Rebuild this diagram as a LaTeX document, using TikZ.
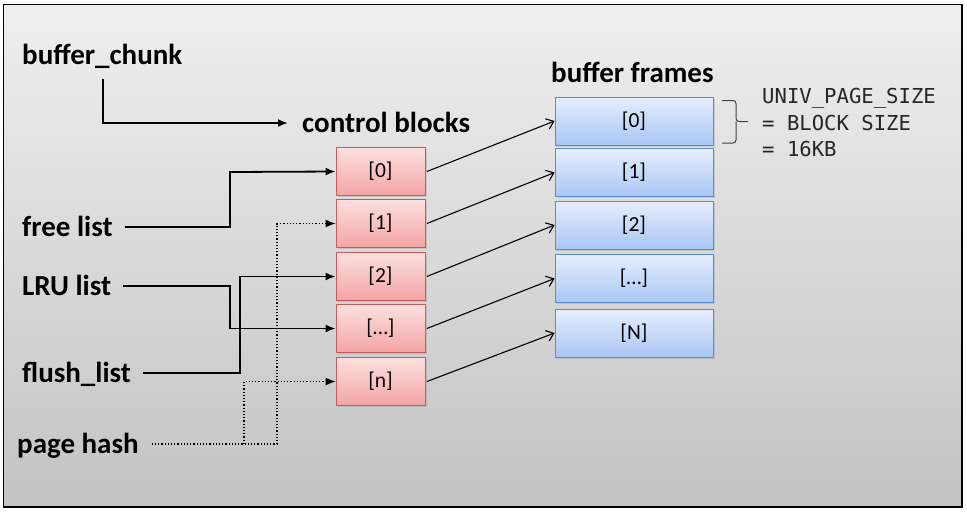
\documentclass[tikz,border=0pt]{standalone}
\usepackage{fontspec}
\setmainfont{Carlito}
\newfontfamily\monof{DejaVu Sans Mono}
\usetikzlibrary{arrows.meta,decorations.pathreplacing,shadows}
\definecolor{rtop}{HTML}{FCE0E0}
\definecolor{rbot}{HTML}{F4A4A4}
\definecolor{rdraw}{HTML}{C85A5A}
\definecolor{btop}{HTML}{E6EEFD}
\definecolor{bbot}{HTML}{A9C6F4}
\definecolor{bdraw}{HTML}{5B8BCF}
\definecolor{bgtop}{HTML}{EFEFEF}
\definecolor{bgbot}{HTML}{C3C3C3}
\begin{document}
\begin{tikzpicture}[x=1pt,y=-1pt,
  lbl/.style={font=\fontsize{29}{31}\selectfont\bfseries, inner sep=0pt, text height=20pt, text depth=2pt, anchor=west},
  rbox/.style={draw=rdraw, line width=0.8pt, top color=rtop, bottom color=rbot, minimum width=89pt, minimum height=48pt, inner sep=0pt, font=\fontsize{21.5}{23}\selectfont, drop shadow={shadow xshift=1.5pt, shadow yshift=-1.5pt, opacity=0.25}},
  bbox/.style={draw=bdraw, line width=0.8pt, top color=btop, bottom color=bbot, minimum width=158pt, minimum height=48pt, inner sep=0pt, font=\fontsize{21.5}{23}\selectfont, drop shadow={shadow xshift=1.5pt, shadow yshift=-1.5pt, opacity=0.25}},
  conn/.style={line width=1.8pt, -{Latex[length=10pt,width=8pt]}},
  dotc/.style={line width=1.2pt, dotted, -{Latex[length=10pt,width=8pt]}},
  ptr/.style={line width=1.1pt, -{Straight Barb[length=7pt,width=11pt,line width=1.1pt]}},
  mono/.style={font=\monof\fontsize{20.6}{24}\selectfont, inner sep=0pt, anchor=base west, text=black!85}
]
\useasboundingbox (0,0) rectangle (967,512);
\shade[top color=bgtop, bottom color=bgbot] (3.5,4.5) rectangle (962,507);
\draw[line width=1.5pt] (3.5,4.5) rectangle (962,507);

% labels
\node[lbl] (bc) at (22,55) {buffer\_chunk};
\node[lbl] (cb) at (302,123) {control blocks};
\node[lbl] (bf) at (551,73) {buffer frames};
\node[lbl] (fl) at (22,227) {free list};
\node[lbl] (lru) at (22,286) {LRU list};
\node[lbl] (fsh) at (22,373) {flush\_list};
\node[lbl] (ph) at (17,444) {page hash};

% control blocks
\node[rbox] (r0) at (380.5,171.5) {[0]};
\node[rbox] (r1) at (380.5,223.5) {[1]};
\node[rbox] (r2) at (380.5,276.5) {[2]};
\node[rbox] (r3) at (380.5,328.5) {[…]};
\node[rbox] (r4) at (380.5,381.5) {[n]};

% buffer frames
\node[bbox] (b0) at (634,121) {[0]};
\node[bbox] (b1) at (634,172.5) {[1]};
\node[bbox] (b2) at (634,225) {[2]};
\node[bbox] (b3) at (634,278.5) {[…]};
\node[bbox] (b4) at (634,333) {[N]};

% pointers
\foreach \i in {0,...,4} \draw[ptr] ([xshift=1.5pt]r\i.east) -- (b\i.west);

% connectors
\coordinate (bcs) at (103,79);
\draw[conn] (bcs) |- ([xshift=-14pt]cb.west);
\draw[conn] ([xshift=12pt]fl.east) -| (230,172) -- (r0.west);
\draw[conn] ([xshift=12pt]lru.east) -| (230,328.5) -- (r3.west);
\draw[conn] ([xshift=12pt]fsh.east) -| (240,276.5) -- (r2.west);
\draw[dotc] ([xshift=13pt]ph.east) -| (277,223.5) -- (r1.west);
\coordinate (phb) at (244,444);
\draw[dotc] (phb) |- (r4.west);

% brace and size note
\draw[line width=1pt, black!75, rounded corners=3pt] (722,100.5) -- (736,100.5) -- (736,121.5) -- (748,121.5);
\draw[line width=1pt, black!75, rounded corners=3pt] (722,143) -- (736,143) -- (736,121.5);
\node[mono] (u1) at (762,103.5) {UNIV\_PAGE\_SIZE};
\node[mono] (u2) at (762,130) {= BLOCK SIZE};
\node[mono] (u3) at (762,156.7) {= 16KB};
\end{tikzpicture}
\end{document}
